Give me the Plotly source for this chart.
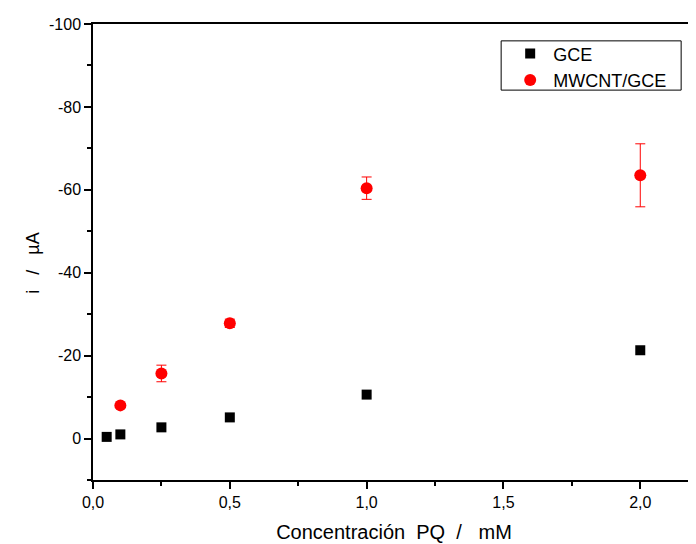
import plotly.graph_objects as go

conc_gce = [0.05, 0.1, 0.25, 0.5, 1.0, 2.0]
i_gce = [-0.4, -1.0, -2.7, -5.1, -10.6, -21.3]

conc_mw = [0.1, 0.25, 0.5, 1.0, 2.0]
i_mw = [-8.0, -15.7, -27.8, -60.4, -63.5]
err_mw = [0.4, 2.0, 1.0, 2.7, 7.6]

y_ticks = [0, -20, -40, -60, -80, -100]
y_ticklabels = ["0", "-20", "-40", "-60", "-80", "-100"]
x_ticks = [0.0, 0.5, 1.0, 1.5, 2.0]
x_ticklabels = ["0,0", "0,5", "1,0", "1,5", "2,0"]

NB = "\u00a0"
x_title = f"Concentración{NB}{NB}PQ{NB}{NB}/{NB}{NB}{NB}mM"
y_title = f"i{NB}{NB}{NB}/{NB}{NB}{NB}µA"

font_family = "Liberation Sans, Arial, sans-serif"

fig = go.Figure()
fig.add_trace(go.Scatter(
    x=conc_gce, y=i_gce, mode="markers", name="GCE",
    marker=dict(symbol="square", size=10, color="black", line=dict(width=0)),
))
fig.add_trace(go.Scatter(
    x=conc_mw, y=i_mw, mode="markers", name="MWCNT/GCE",
    marker=dict(symbol="circle", size=12, color="#ff0000", line=dict(width=0)),
    error_y=dict(type="data", array=err_mw, visible=True, color="#ff0000",
                 thickness=1, width=5),
))

# legend frame drawn as a shape for tighter spacing
fig.add_shape(type="rect", xref="paper", yref="paper",
              x0=0.678, x1=0.977, y0=0.855, y1=0.963,
              line=dict(color="black", width=1), fillcolor="white", layer="below")

# y-axis title (as annotation, to match its off-centre placement)
fig.add_annotation(text=y_title, textangle=-90, xref="paper", yref="paper",
                   x=-0.1, y=0.476, xanchor="center", yanchor="middle",
                   showarrow=False, font=dict(size=18, family=font_family))

fig.update_layout(
    width=688, height=536,
    margin=dict(l=85, r=1, t=16, b=64, autoexpand=False),
    paper_bgcolor="white", plot_bgcolor="white",
    font=dict(family=font_family, size=16, color="black"),
    showlegend=True,
    legend=dict(
        x=0.688, y=0.975, xanchor="left", yanchor="top",
        bgcolor="rgba(0,0,0,0)", borderwidth=0,
        font=dict(size=18, family=font_family),
        itemwidth=36, tracegroupgap=0,
    ),
)

fig.update_xaxes(
    range=[0, 2.2], automargin=False,
    tickvals=x_ticks, ticktext=x_ticklabels,
    ticks="outside", ticklen=7, tickwidth=1.5, tickcolor="black",
    minor=dict(dtick=0.25, ticks="outside", ticklen=4, tickwidth=1.5, tickcolor="black"),
    showline=True, linecolor="black", linewidth=1.5, mirror=True,
    showgrid=False, zeroline=False,
    tickfont=dict(size=16),
    title=dict(text=x_title, font=dict(size=20), standoff=15),
)
fig.update_yaxes(
    range=[10, -100], automargin=False,
    tickvals=y_ticks, ticktext=y_ticklabels,
    ticks="outside", ticklen=7, tickwidth=1.5, tickcolor="black",
    minor=dict(tickvals=[10, -10, -30, -50, -70, -90], ticks="outside", ticklen=4,
               tickwidth=1.5, tickcolor="black"),
    showline=True, linecolor="black", linewidth=1.5, mirror=False,
    showgrid=False, zeroline=False,
    tickfont=dict(size=16),
)

fig.write_html("out.html")
